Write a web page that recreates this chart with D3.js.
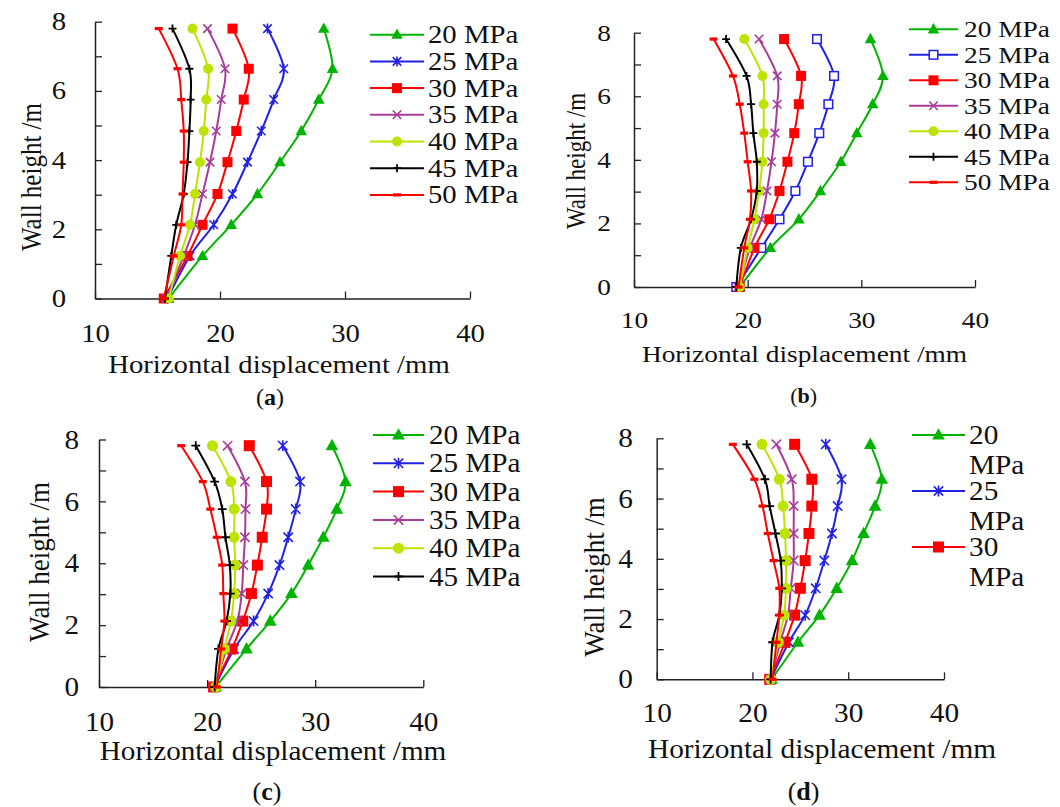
<!DOCTYPE html>
<html>
<head>
<meta charset="utf-8">
<script src="https://cdn.jsdelivr.net/npm/d3@7"></script>
<style>
  body { margin: 0; background: #fff; }
  svg { display: block; }
  text { font-family: "Liberation Serif", "Times New Roman", serif; fill: #111; }
</style>
</head>
<body>
<svg id="chart" width="1060" height="807"></svg>
<script>
// Measurement heights along the wall (m)
const wallHeights = [0, 1.23, 2.13, 3.02, 3.94, 4.84, 5.75, 6.64, 7.8];

// Series names (concrete strength)
const pressureLabels = ["20 MPa", "25 MPa", "30 MPa", "35 MPa", "40 MPa", "45 MPa", "50 MPa"];

// Axis ticks
const xTickValues = [10, 20, 30, 40];
const yTickValues = [0, 1, 2, 3, 4, 5, 6, 7, 8];
const yTickLabels = ["0", "", "2", "", "4", "", "6", "", "8"];
const panelCaptions = ["a", "b", "c", "d"];

// Horizontal displacement (mm), one row per series 20..50 MPa, one value per height
const displacementA = [
  [15.9, 18.6, 20.9, 23.0, 24.8, 26.5, 27.9, 29.0, 28.3],
  [15.8, 17.6, 19.5, 21.0, 22.2, 23.3, 24.3, 25.1, 23.8],
  [15.5, 17.4, 18.6, 19.8, 20.6, 21.3, 21.9, 22.3, 21.0],
  [15.7, 17.1, 18.0, 18.6, 19.2, 19.7, 20.1, 20.4, 19.0],
  [15.9, 16.8, 17.6, 18.0, 18.4, 18.7, 18.9, 19.05, 17.8],
  [15.6, 16.1, 16.5, 17.1, 17.4, 17.55, 17.65, 17.55, 16.2],
  [15.5, 16.3, 16.9, 17.0, 17.1, 17.1, 16.9, 16.6, 15.1]
];
const displacementB = [
  [19.3, 22.0, 24.5, 26.4, 28.2, 29.6, 31.0, 31.9, 30.8],
  [19.0, 21.2, 22.8, 24.2, 25.3, 26.3, 27.1, 27.6, 26.1],
  [19.3, 20.6, 21.9, 22.8, 23.5, 24.1, 24.5, 24.7, 23.2],
  [19.2, 20.2, 21.2, 21.7, 22.1, 22.4, 22.6, 22.6, 21.0],
  [19.3, 20.0, 20.6, 21.0, 21.3, 21.4, 21.4, 21.3, 19.7],
  [19.0, 19.4, 20.3, 20.8, 20.8, 20.5, 20.3, 19.9, 18.1],
  [19.2, 19.7, 20.2, 20.3, 20.0, 19.7, 19.3, 18.7, 17.0]
];
const displacementC = [
  [20.8, 23.65, 25.85, 27.8, 29.35, 30.75, 32.0, 32.8, 31.55],
  [20.7, 22.5, 24.3, 25.65, 26.7, 27.5, 28.2, 28.6, 27.0],
  [20.6, 22.3, 23.3, 24.1, 24.65, 25.1, 25.5, 25.5, 23.9],
  [20.7, 21.8, 22.8, 23.2, 23.35, 23.5, 23.55, 23.5, 21.9],
  [20.8, 21.6, 22.2, 22.5, 22.6, 22.5, 22.5, 22.2, 20.5],
  [20.7, 21.05, 21.8, 22.15, 22.1, 21.7, 21.4, 20.7, 18.95],
  [20.9, 21.3, 21.6, 21.5, 21.4, 20.9, 20.3, 19.6, 17.6]
];
const displacementD = [
  [22.0, 24.75, 27.0, 28.8, 30.4, 31.6, 32.8, 33.5, 32.3],
  [21.9, 23.8, 25.5, 26.6, 27.5, 28.3, 28.9, 29.3, 27.65],
  [21.8, 23.4, 24.4, 25.0, 25.5, 25.9, 26.2, 26.2, 24.4],
  [21.9, 22.9, 23.7, 24.0, 24.3, 24.3, 24.3, 24.1, 22.5],
  [21.9, 22.7, 23.3, 23.5, 23.5, 23.4, 23.2, 22.8, 21.0],
  [21.9, 22.1, 22.8, 23.05, 22.95, 22.4, 21.8, 21.3, 19.4],
  [22.1, 22.5, 22.8, 22.8, 22.2, 21.6, 21.05, 20.2, 17.95]
];

// Series styling
const seriesColors = ["#00b400", "#2020e6", "#ff0000", "#a83c98", "#bde300", "#000000", "#ff0000"];
const markerKindsDefault = ["triangle", "asterisk", "square", "cross", "circle", "plus", "dash"];
const markerKindsB = ["triangle", "openSquare", "square", "cross", "circle", "plus", "dash"];

// Panel layout
const panels = [
  { data: displacementA, markers: markerKindsDefault, caption: panelCaptions[0],
    x0: 95, x1: 470, yTop: 21.7, yBot: 298.5, font: 25, sx: 1.15, xLabOff: 43, yPad: 29,
    yTitle: [32, 177], xTitle: [279, 373], cap: [270, 405], mk: 10,
    legend: { x0: 370, x1: 424, tx: 428, y0: 34.7, step: 26.7, items: [0,1,2,3,4,5,6], wrap: false } },
  { data: displacementB, markers: markerKindsB, caption: panelCaptions[1],
    x0: 634, x1: 975, yTop: 32.7, yBot: 287, font: 23, sx: 1.19, xLabOff: 40.6, yPad: 23,
    yTitle: [575.6, 161], xTitle: [804.5, 361.7], cap: [803.6, 403], mk: 10,
    legend: { x0: 909, x1: 958, tx: 964, y0: 29.3, step: 25.5, items: [0,1,2,3,4,5,6], wrap: false } },
  { data: displacementC, markers: markerKindsDefault, caption: panelCaptions[2],
    x0: 99, x1: 423.3, yTop: 439.5, yBot: 687, font: 27, sx: 1.08, xLabOff: 43.6, yPad: 20,
    yTitle: [39, 562], xTitle: [273, 760], cap: [267, 800], mk: 11,
    legend: { x0: 373, x1: 424, tx: 429, y0: 435, step: 28.3, items: [0,1,2,3,4,5], wrap: false } },
  { data: displacementD, markers: markerKindsDefault, caption: panelCaptions[3],
    x0: 656.7, x1: 944, yTop: 438.3, yBot: 679.3, font: 27, sx: 1.085, xLabOff: 42.7, yPad: 23.7,
    yTitle: [594, 577], xTitle: [822, 758], cap: [803.6, 800], mk: 11,
    legend: { x0: 912, x1: 965, tx: 969, y0: 435, step: 56, items: [0,1,2], wrap: true, wrapStep: 30 } }
];

const svg = d3.select("#chart");

function drawMarker(g, kind, color, size, cx, cy) {
  const h = size / 2;
  const m = g.append("g").attr("transform", `translate(${cx},${cy})`);
  if (kind === "triangle") {
    const w = size * 1.15, t = w * 0.9;
    m.append("path").attr("d", `M0,${-t * 0.6}L${w / 2},${t * 0.4}L${-w / 2},${t * 0.4}Z`).attr("fill", color);
  } else if (kind === "square") {
    m.append("rect").attr("x", -h).attr("y", -h).attr("width", size).attr("height", size).attr("fill", color);
  } else if (kind === "openSquare") {
    m.append("rect").attr("x", -h + 0.7).attr("y", -h + 0.7).attr("width", size - 1.4).attr("height", size - 1.4)
      .attr("fill", "#fff").attr("stroke", color).attr("stroke-width", 1.5);
  } else if (kind === "circle") {
    m.append("circle").attr("r", h).attr("fill", color);
  } else if (kind === "asterisk") {
    const a = h * 0.85;
    m.append("path").attr("d", `M${-a},${-a}L${a},${a}M${-a},${a}L${a},${-a}M0,${-h}L0,${h}`)
      .attr("stroke", color).attr("stroke-width", 1.6).attr("fill", "none");
  } else if (kind === "cross") {
    const a = h * 0.85;
    m.append("path").attr("d", `M${-a},${-a}L${a},${a}M${-a},${a}L${a},${-a}`)
      .attr("stroke", color).attr("stroke-width", 1.6).attr("fill", "none");
  } else if (kind === "plus") {
    const a = h * 0.8;
    m.append("path").attr("d", `M${-a},0L${a},0M0,${-a}L0,${a}`)
      .attr("stroke", color).attr("stroke-width", 1.8).attr("fill", "none");
  } else if (kind === "dash") {
    m.append("rect").attr("x", -4).attr("y", -1.6).attr("width", 8).attr("height", 3.2).attr("fill", color);
  }
}

panels.forEach(p => {
  const g = svg.append("g");
  const x = d3.scaleLinear().domain([10, 40]).range([p.x0, p.x1]);
  const y = d3.scaleLinear().domain([0, 8]).range([p.yBot, p.yTop]);
  const fs = p.font + "px";

  // x axis with inward ticks
  const gx = g.append("g").attr("transform", `translate(0,${p.yBot})`)
    .call(d3.axisBottom(x).tickValues(xTickValues).tickSize(-7).tickSizeOuter(0).tickFormat(d3.format("d")))
    .attr("font-size", null).attr("font-family", null);
  gx.select(".domain").attr("stroke", "#222").attr("stroke-width", 1.5);
  gx.selectAll(".tick line").attr("stroke", "#222").attr("stroke-width", 1.3);
  gx.selectAll(".tick text").attr("y", 0).attr("dy", null)
    .attr("transform", `translate(0,${p.xLabOff}) scale(${p.sx},1)`)
    .style("font-size", fs).attr("fill", "#111");

  // y axis with inward ticks, labels every 2 m
  const gy = g.append("g").attr("transform", `translate(${p.x0},0)`)
    .call(d3.axisLeft(y).tickValues(yTickValues).tickSize(-7).tickSizeOuter(0)
      .tickFormat((d, i) => yTickLabels[i]))
    .attr("font-size", null).attr("font-family", null);
  gy.select(".domain").attr("stroke", "#222").attr("stroke-width", 1.5);
  gy.selectAll(".tick line").attr("stroke", "#222").attr("stroke-width", 1.3);
  gy.selectAll(".tick text").attr("x", 0)
    .attr("transform", `translate(${-p.yPad},0) scale(${p.sx},1)`)
    .style("font-size", fs).attr("fill", "#111");

  // series: smoothed line then markers
  const line = d3.line()
    .x(d => x(d[0])).y(d => y(d[1]))
    .curve(d3.curveCardinal.tension(0));
  p.data.forEach((vals, si) => {
    const pts = vals.map((v, i) => [v, wallHeights[i]]);
    g.append("path").datum(pts).attr("d", line)
      .attr("fill", "none").attr("stroke", seriesColors[si]).attr("stroke-width", 2);
    pts.forEach(pt => drawMarker(g, p.markers[si], seriesColors[si], p.mk, x(pt[0]), y(pt[1])));
  });

  // legend
  const L = p.legend;
  L.items.forEach((si, k) => {
    const ry = L.y0 + k * L.step;
    g.append("line").attr("x1", L.x0).attr("x2", L.x1).attr("y1", ry).attr("y2", ry)
      .attr("stroke", seriesColors[si]).attr("stroke-width", 2);
    drawMarker(g, p.markers[si], seriesColors[si], p.mk, (L.x0 + L.x1) / 2, ry);
    const parts = pressureLabels[si].split(" ");
    const t = g.append("text").attr("transform", `translate(${L.tx},${ry}) scale(${p.sx},1)`)
      .style("font-size", fs);
    if (L.wrap) {
      t.append("tspan").attr("x", 0).attr("y", 0).attr("dy", "0.34em").text(parts[0]);
      t.append("tspan").attr("x", 0).attr("y", L.wrapStep).attr("dy", "0.34em").text(parts[1]);
    } else {
      t.attr("dy", "0.34em").text(pressureLabels[si]);
    }
  });

  // axis titles
  g.append("text")
    .attr("transform", `translate(${p.yTitle[0]},${p.yTitle[1]}) scale(${p.sx},1) rotate(-90)`)
    .attr("text-anchor", "middle").attr("dy", "0.33em").style("font-size", fs)
    .text("Wall height /m");
  g.append("text")
    .attr("transform", `translate(${p.xTitle[0]},${p.xTitle[1]}) scale(${p.sx},1)`)
    .attr("text-anchor", "middle").style("font-size", fs)
    .text("Horizontal displacement /mm");

  // panel caption
  const c = g.append("text")
    .attr("transform", `translate(${p.cap[0]},${p.cap[1]})`)
    .attr("text-anchor", "middle").style("font-size", (p.font - 1) + "px");
  c.append("tspan").text("(");
  c.append("tspan").attr("font-weight", "bold").text(p.caption);
  c.append("tspan").text(")");
});
</script>
</body>
</html>
